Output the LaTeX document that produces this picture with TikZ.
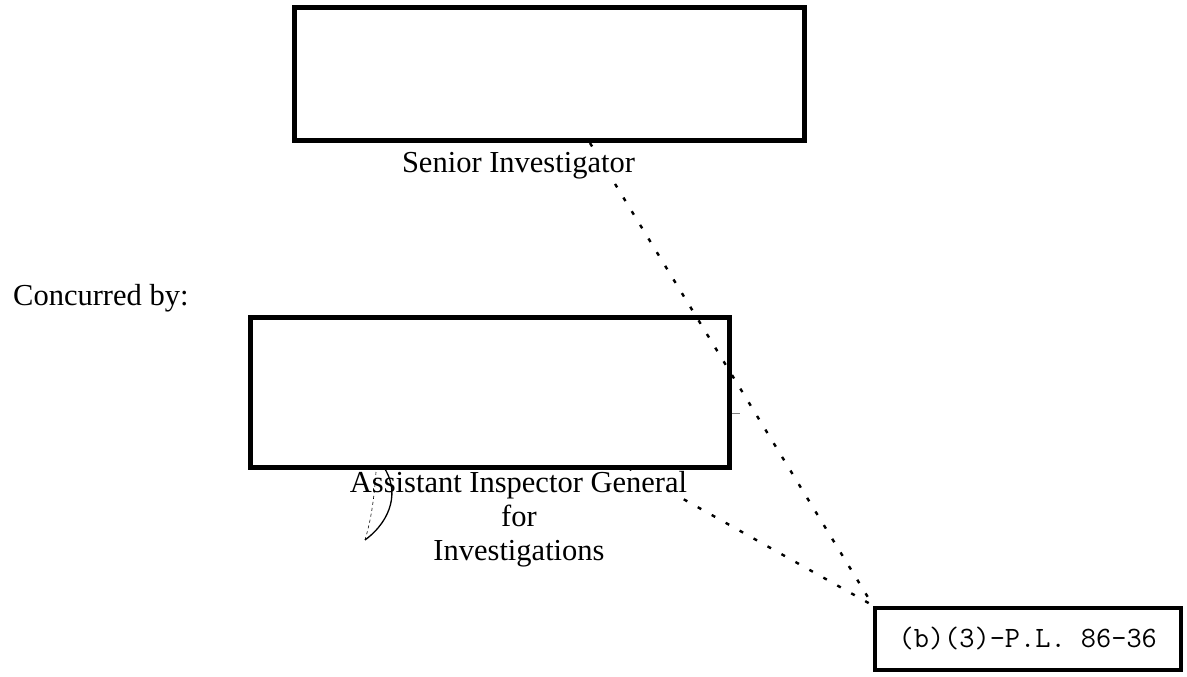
\documentclass[tikz,border=0pt]{standalone}
\usepackage{fontspec}
\setmainfont{Liberation Serif}
\usepackage{tikz}

\begin{document}
\begin{tikzpicture}[x=1pt, y=-1pt,
  box/.style = {draw, line width=4.6pt, rectangle, inner sep=0pt},
  title/.style = {font=\fontsize{30.5}{34}\selectfont, inner sep=0pt, fill=white},
  dots/.style = {line width=2.4pt, dash pattern=on 4pt off 12pt}]
\useasboundingbox (0,0) rectangle (1187,677);

\node[box, minimum width=510, minimum height=133] (senior) at (549.5,74) {};
\node[box, minimum width=479, minimum height=150] (aig) at (490,392.5) {};
\node[box, minimum width=305.5, minimum height=62, line width=4pt,
  font=\ttfamily\fontsize{29.5}{32}\selectfont] (exempt) at (1027.75,638.5) {(b)(3)-P.L. 86-36};

\coordinate (s1) at (590,143);
\coordinate (s2) at (628,468);
\coordinate (tick) at (740,413);

\draw[dots] (s1) -- (exempt.north west);
\draw[dots] (s2) -- (exempt.north west);
\draw[line width=0.8pt, gray] (aig.east |- tick) -- (tick);

\node[title, anchor=base] (sname) at (518.5,172) {Senior Investigator};
\node[title, anchor=base west] (conc) at (13,305) {Concurred by:};
\node[title, anchor=base] (aname) at (518.5,492) {Assistant Inspector General};
\node[title, anchor=base] (afor) at (519,526) {for};
\node[title, anchor=base] (ainv) at (519,560) {Investigations};

% initials
\coordinate (m1) at (383,466);
\coordinate (m2) at (376,472);
\coordinate (m3) at (365,540);
\draw[line width=1.3pt] (m1) .. controls (400,490) and (392,520) .. (m3);
\draw[line width=0.6pt, dashed] (m2) .. controls (374,500) and (371,520) .. (m3);
\end{tikzpicture}
\end{document}
